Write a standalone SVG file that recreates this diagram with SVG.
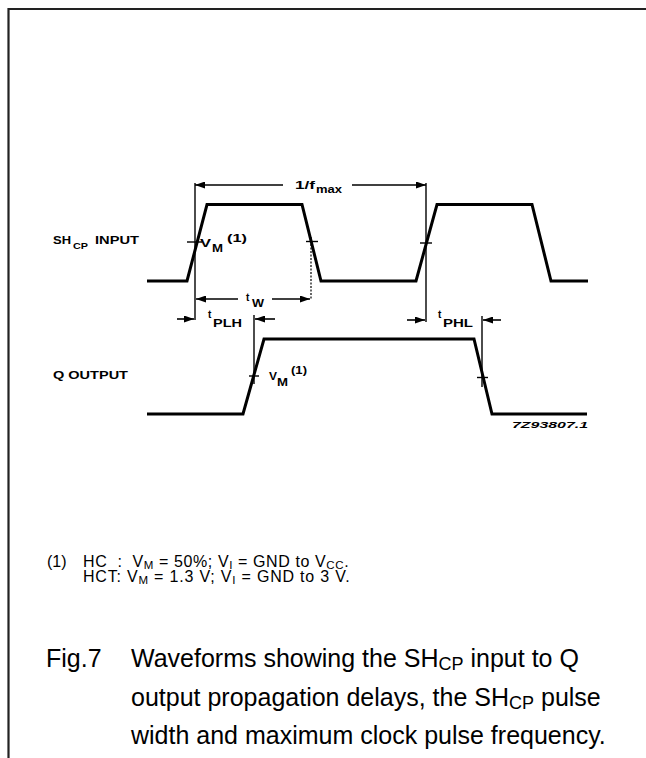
<svg xmlns="http://www.w3.org/2000/svg" width="646" height="758" viewBox="0 0 646 758">
<style>
.wave{fill:none;stroke:#000;stroke-width:3;stroke-linejoin:miter}
.thin{fill:none;stroke:#000;stroke-width:1.4}
.dash{fill:none;stroke:#000;stroke-width:1.2;stroke-dasharray:2 1.5}
.arr{fill:none;stroke:#000;stroke-width:1.6;marker-end:url(#ah)}
.lbl{font-family:"Liberation Sans",Arial,sans-serif;font-weight:bold;fill:#000}
.note{font-family:"Liberation Sans",Arial,sans-serif;fill:#000}
</style>
<defs>
<marker id="ah" markerUnits="userSpaceOnUse" markerWidth="10" markerHeight="7" refX="10" refY="3.5" orient="auto">
<path d="M0,0 L10,3.5 L0,7 z" fill="#000"/>
</marker>
</defs>
<rect width="646" height="758" fill="#fff"/>
<path d="M8.5,758 V9 H646" fill="none" stroke="#222" stroke-width="2.2"/>

<g id="input-wave">
<path class="wave" d="M147,281 L187,281 L207,204.5 L302,204.5 L321,281 L416,281 L437,204.5 L532,204.5 L551,281 L588,281"/>
</g>
<g id="output-wave">
<path class="wave" d="M147,414 L243,414 L264,339 L474,339 L492,414 L587,414"/>
</g>

<g id="connectors">
<line class="thin" x1="195" y1="183" x2="195" y2="320"/>
<line class="thin" x1="426" y1="183" x2="426" y2="322"/>
<line class="dash" x1="311" y1="237" x2="311" y2="300"/>
<line class="thin" x1="254" y1="315" x2="254" y2="384"/>
<line class="thin" x1="482" y1="316" x2="482" y2="387"/>
<line class="thin" x1="187" y1="242" x2="202" y2="242"/>
<line class="thin" x1="306" y1="241.5" x2="318" y2="241.5"/>
<line class="thin" x1="420" y1="243" x2="432" y2="243"/>
<line class="thin" x1="249" y1="376" x2="259" y2="376"/>
<line class="thin" x1="477" y1="377.5" x2="488" y2="377.5"/>
<line class="arr" x1="283" y1="185" x2="195" y2="185"/>
<line class="arr" x1="352" y1="185" x2="426" y2="185"/>
<line class="arr" x1="238" y1="299" x2="196" y2="299"/>
<line class="arr" x1="272" y1="299" x2="310" y2="299"/>
<line class="arr" x1="177" y1="319" x2="194" y2="319"/>
<line class="arr" x1="275" y1="319" x2="255" y2="319"/>
<line class="arr" x1="407" y1="320" x2="425" y2="320"/>
<line class="arr" x1="501" y1="320" x2="483" y2="320"/>
</g>

<g id="labels">
<text class="lbl" x="53" y="244" font-size="10" textLength="18" lengthAdjust="spacingAndGlyphs">SH</text>
<text class="lbl" x="73" y="248.5" font-size="9" textLength="15" lengthAdjust="spacingAndGlyphs">CP</text>
<text class="lbl" x="95" y="244" font-size="10" textLength="44" lengthAdjust="spacingAndGlyphs">INPUT</text>
<text class="lbl" x="53" y="379" font-size="10" textLength="75" lengthAdjust="spacingAndGlyphs">Q OUTPUT</text>

<text class="lbl" x="295" y="188.5" font-size="11" textLength="20" lengthAdjust="spacingAndGlyphs">1/f</text>
<text class="lbl" x="316" y="193" font-size="10" textLength="26" lengthAdjust="spacingAndGlyphs">max</text>

<text class="lbl" x="200" y="246.5" font-size="11.5" textLength="11" lengthAdjust="spacingAndGlyphs">V</text>
<text class="lbl" x="212" y="251.5" font-size="11.5" textLength="11" lengthAdjust="spacingAndGlyphs">M</text>
<text class="lbl" x="227" y="242" font-size="10" textLength="20" lengthAdjust="spacingAndGlyphs">(1)</text>

<text class="lbl" x="269" y="380" font-size="11.5" textLength="8" lengthAdjust="spacingAndGlyphs">V</text>
<text class="lbl" x="277" y="386" font-size="11.5" textLength="11" lengthAdjust="spacingAndGlyphs">M</text>
<text class="lbl" x="291" y="374" font-size="10" textLength="16" lengthAdjust="spacingAndGlyphs">(1)</text>

<text class="lbl" x="246" y="301" font-size="10">t</text>
<text class="lbl" x="252" y="306.5" font-size="11" textLength="12" lengthAdjust="spacingAndGlyphs">W</text>

<text class="lbl" x="208" y="318" font-size="10">t</text>
<text class="lbl" x="213" y="326.5" font-size="10" textLength="29" lengthAdjust="spacingAndGlyphs">PLH</text>

<text class="lbl" x="438" y="318" font-size="10">t</text>
<text class="lbl" x="443" y="327" font-size="10" textLength="30" lengthAdjust="spacingAndGlyphs">PHL</text>

<text class="lbl" x="512" y="428" font-size="9.5" font-style="italic" textLength="76" lengthAdjust="spacingAndGlyphs">7Z93807.1</text>
</g>

<g id="footnote" class="note" font-size="16">
<text x="47" y="566.5">(1)</text>
<text x="83" y="566.5" letter-spacing="0.6" xml:space="preserve">HC  :  V<tspan font-size="11.5" dy="2">M</tspan><tspan dy="-2"> = 50%; V</tspan><tspan font-size="11.5" dy="2">I</tspan><tspan dy="-2"> = GND to V</tspan><tspan font-size="11.5" dy="2">CC</tspan><tspan dy="-2">.</tspan></text>
<text x="83" y="582" letter-spacing="0.8" xml:space="preserve">HCT: V<tspan font-size="11.5" dy="2">M</tspan><tspan dy="-2"> = 1.3 V; V</tspan><tspan font-size="11.5" dy="2">I</tspan><tspan dy="-2"> = GND to 3 V.</tspan></text>
</g>

<g id="caption" class="note" font-size="25">
<text x="46" y="667">Fig.7</text>
<text x="131" y="667">Waveforms showing the SH<tspan font-size="18" dy="3">CP</tspan><tspan dy="-3"> input to Q</tspan></text>
<text x="131" y="706">output propagation delays, the SH<tspan font-size="18" dy="3">CP</tspan><tspan dy="-3"> pulse</tspan></text>
<text x="131" y="744">width and maximum clock pulse frequency.</text>
</g>
</svg>
